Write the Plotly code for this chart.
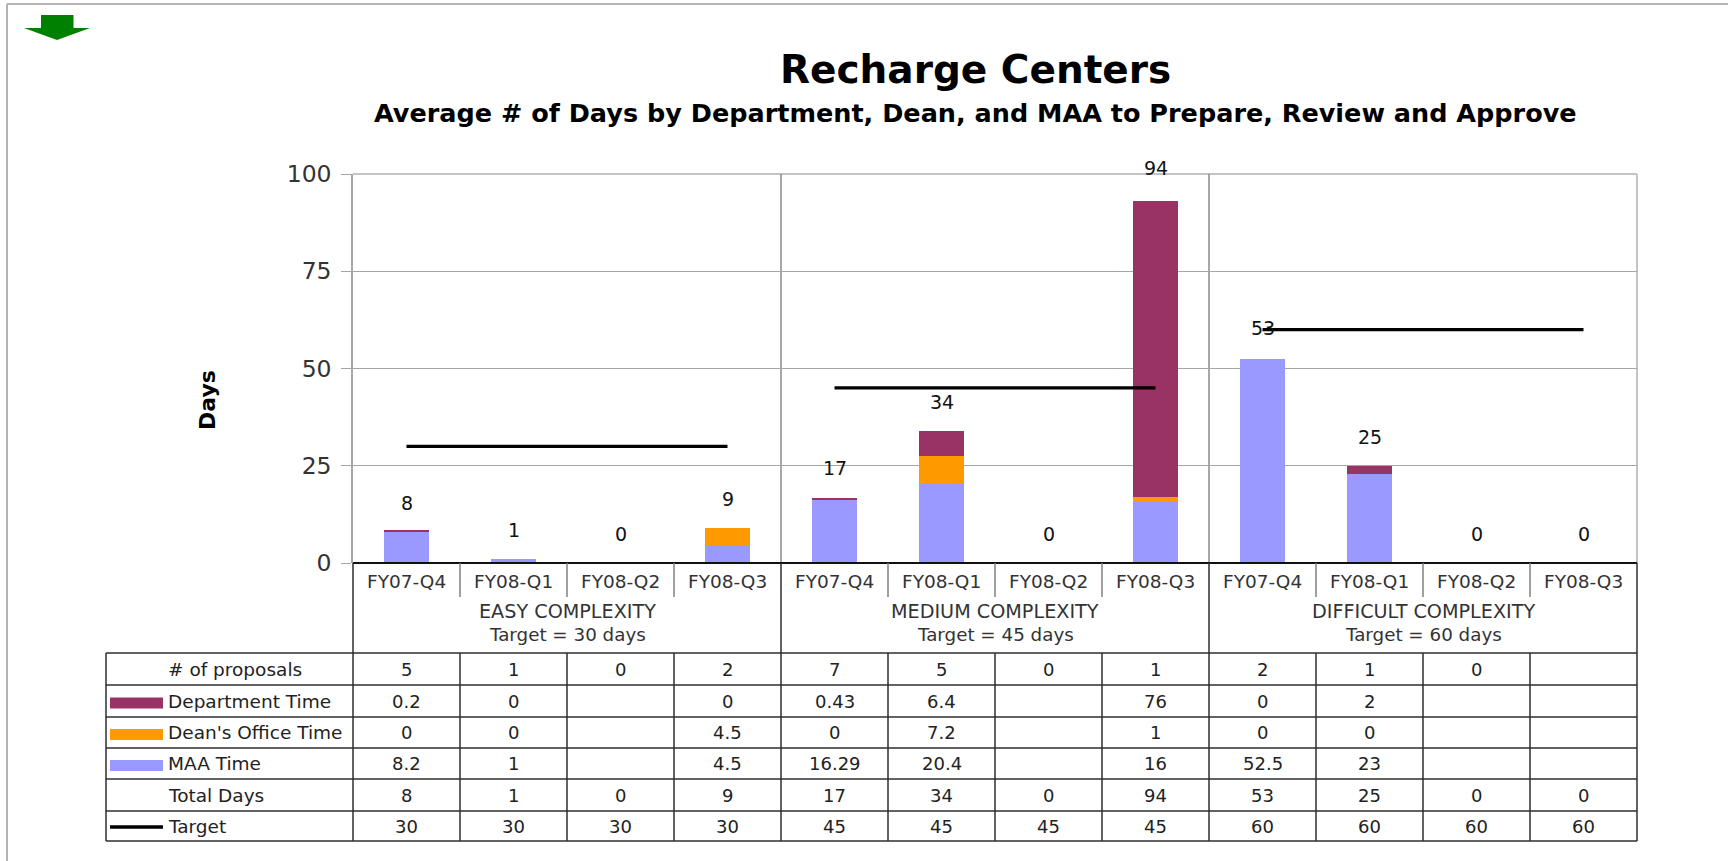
import plotly.graph_objects as go

# ---------------- data ----------------
quarters = ["FY07-Q4", "FY08-Q1", "FY08-Q2", "FY08-Q3",
            "FY07-Q4", "FY08-Q1", "FY08-Q2", "FY08-Q3",
            "FY07-Q4", "FY08-Q1", "FY08-Q2", "FY08-Q3"]
groups = ["EASY COMPLEXITY", "MEDIUM COMPLEXITY", "DIFFICULT COMPLEXITY"]
group_targets = [30, 45, 60]
n_per_group = 4

proposals = [5, 1, 0, 2, 7, 5, 0, 1, 2, 1, 0, None]
dept_time = [0.2, 0, None, 0, 0.43, 6.4, None, 76, 0, 2, None, None]
dean_time = [0, 0, None, 4.5, 0, 7.2, None, 1, 0, 0, None, None]
maa_time = [8.2, 1, None, 4.5, 16.29, 20.4, None, 16, 52.5, 23, None, None]
total_days = [8, 1, 0, 9, 17, 34, 0, 94, 53, 25, 0, 0]
target = [30, 30, 30, 30, 45, 45, 45, 45, 60, 60, 60, 60]

row_labels = ["# of proposals", "Department Time", "Dean's Office Time",
              "MAA Time", "Total Days", "Target"]

C_DEPT = "#993366"
C_DEAN = "#FF9900"
C_MAA = "#9999FF"

W, H = 1728, 861
FONT = "DejaVu Sans"


def px(x):
    return x / W


def py(y):
    return (H - y) / H


n = len(quarters)
xs = list(range(n))

fig = go.Figure()

# bars (stacked bottom -> top: MAA, Dean, Dept)
fig.add_trace(go.Bar(x=xs, y=maa_time, marker=dict(color=C_MAA, line=dict(width=0)), name="MAA Time"))
fig.add_trace(go.Bar(x=xs, y=dean_time, marker=dict(color=C_DEAN, line=dict(width=0)), name="Dean's Office Time"))
fig.add_trace(go.Bar(x=xs, y=dept_time, marker=dict(color=C_DEPT, line=dict(width=0)), name="Department Time"))

# target line, broken between groups
tx, ty = [], []
for i in xs:
    if i > 0 and i % n_per_group == 0:
        tx.append(None)
        ty.append(None)
    tx.append(i)
    ty.append(target[i])
fig.add_trace(go.Scatter(x=tx, y=ty, mode="lines", line=dict(color="black", width=3.2),
                         name="Target", connectgaps=False))

shapes = []
annotations = []

# ---------- plot area frame / group separators ----------
Y_TOP, Y_ZERO = 174, 563
PLOT_L, PLOT_R = 353, 1637
shapes.append(dict(type="line", xref="paper", yref="paper", x0=px(PLOT_L), x1=px(PLOT_R),
                   y0=py(Y_TOP), y1=py(Y_TOP), line=dict(color="#b0b0b0", width=1.5), layer="below"))
shapes.append(dict(type="line", xref="paper", yref="paper", x0=px(PLOT_R), x1=px(PLOT_R),
                   y0=py(Y_TOP), y1=py(Y_ZERO), line=dict(color="#c4c4c4", width=2), layer="below"))
for g in range(1, len(groups)):
    xb = g * n_per_group - 0.5
    shapes.append(dict(type="line", xref="x", yref="paper", x0=xb, x1=xb,
                       y0=py(Y_TOP), y1=py(Y_ZERO), line=dict(color="#8a8a8a", width=1.5), layer="below"))

# ---------- category axis table ----------
LINE = "#2e2e2e"
TAB_L = 106
row_lines = [653, 685, 717, 748, 779, 811, 841]

# axis line
shapes.append(dict(type="line", xref="paper", yref="paper", x0=px(PLOT_L), x1=px(PLOT_R),
                   y0=py(Y_ZERO), y1=py(Y_ZERO), line=dict(color="#111111", width=2)))
# small quarter separators
for k in range(1, n):
    if k % n_per_group == 0:
        continue
    shapes.append(dict(type="line", xref="x", yref="paper", x0=k - 0.5, x1=k - 0.5,
                       y0=py(Y_ZERO), y1=py(597), line=dict(color="#808080", width=1.5)))
# group separators through label area
for g in range(1, len(groups)):
    xb = g * n_per_group - 0.5
    shapes.append(dict(type="line", xref="x", yref="paper", x0=xb, x1=xb,
                       y0=py(Y_ZERO), y1=py(row_lines[-1]), line=dict(color=LINE, width=1.5)))
# left/right borders of the label area
for xv in (PLOT_L, PLOT_R):
    shapes.append(dict(type="line", xref="paper", yref="paper", x0=px(xv), x1=px(xv),
                       y0=py(Y_ZERO), y1=py(row_lines[-1]), line=dict(color=LINE, width=1.5)))
# table row lines
for yl in row_lines:
    shapes.append(dict(type="line", xref="paper", yref="paper", x0=px(TAB_L), x1=px(PLOT_R),
                       y0=py(yl), y1=py(yl), line=dict(color=LINE, width=1.6)))
# table left border
shapes.append(dict(type="line", xref="paper", yref="paper", x0=px(TAB_L), x1=px(TAB_L),
                   y0=py(row_lines[0]), y1=py(row_lines[-1]), line=dict(color=LINE, width=1.5)))
# table column separators
for k in range(1, n):
    if k % n_per_group == 0:
        continue
    shapes.append(dict(type="line", xref="x", yref="paper", x0=k - 0.5, x1=k - 0.5,
                       y0=py(row_lines[0]), y1=py(row_lines[-1]), line=dict(color=LINE, width=1.5)))

TXT = "#333333"
# quarter labels
for i in xs:
    annotations.append(dict(x=i, y=py(581), xref="x", yref="paper", text=quarters[i],
                            showarrow=False, font=dict(family=FONT, size=18.5, color=TXT),
                            xanchor="center", yanchor="middle"))
# group labels
for g, name in enumerate(groups):
    xc = g * n_per_group + (n_per_group - 1) / 2
    annotations.append(dict(x=xc, y=py(611), xref="x", yref="paper", text=name,
                            showarrow=False, font=dict(family=FONT, size=19.2, color=TXT),
                            xanchor="center", yanchor="middle"))
    annotations.append(dict(x=xc, y=py(634), xref="x", yref="paper",
                            text="Target = %d days" % group_targets[g],
                            showarrow=False, font=dict(family=FONT, size=18.3, color=TXT),
                            xanchor="center", yanchor="middle"))


def fmt(v):
    if v is None:
        return ""
    return "{:g}".format(v)


table_rows = [proposals, dept_time, dean_time, maa_time, total_days, target]
for r, (lab, vals) in enumerate(zip(row_labels, table_rows)):
    yc = (row_lines[r] + row_lines[r + 1]) / 2
    annotations.append(dict(x=px(166), y=py(yc), xref="paper", yref="paper", text=lab,
                            showarrow=False, font=dict(family=FONT, size=18.5, color="#222222"),
                            xanchor="left", yanchor="middle"))
    for i in xs:
        t = fmt(vals[i])
        if t:
            annotations.append(dict(x=i, y=py(yc), xref="x", yref="paper", text=t,
                                    showarrow=False, font=dict(family=FONT, size=18, color="#222222"),
                                    xanchor="center", yanchor="middle"))

# legend keys in the table
key_colors = {1: C_DEPT, 2: C_DEAN, 3: C_MAA}
for r, col in key_colors.items():
    yc = (row_lines[r] + row_lines[r + 1]) / 2 + 2
    shapes.append(dict(type="rect", xref="paper", yref="paper", x0=px(110), x1=px(163),
                       y0=py(yc - 5.5), y1=py(yc + 5.5), fillcolor=col, line=dict(width=0)))
yc = (row_lines[5] + row_lines[6]) / 2 + 1
shapes.append(dict(type="line", xref="paper", yref="paper", x0=px(110), x1=px(163),
                   y0=py(yc), y1=py(yc), line=dict(color="black", width=3.5)))

# data labels over bars
for i in xs:
    annotations.append(dict(x=i, y=total_days[i], xref="x", yref="y", text=str(total_days[i]),
                            showarrow=False, yshift=29,
                            font=dict(family=FONT, size=19, color="#111111"),
                            xanchor="center", yanchor="middle"))

# titles
annotations.append(dict(x=px(976), y=py(69), xref="paper", yref="paper", text="<b>Recharge Centers</b>",
                        showarrow=False, font=dict(family=FONT, size=39, color="black"),
                        xanchor="center", yanchor="middle"))
annotations.append(dict(x=px(975), y=py(113), xref="paper", yref="paper",
                        text="<b>Average # of Days by Department, Dean, and MAA to Prepare, Review and Approve</b>",
                        showarrow=False, font=dict(family=FONT, size=25.5, color="black"),
                        xanchor="center", yanchor="middle"))
annotations.append(dict(x=px(208), y=py(400), xref="paper", yref="paper", text="<b>Days</b>",
                        showarrow=False, textangle=-90, font=dict(family=FONT, size=22, color="black"),
                        xanchor="center", yanchor="middle"))

# outer frame and green arrow
shapes.append(dict(type="line", xref="paper", yref="paper", x0=px(7), x1=px(7), y0=py(4), y1=py(H + 5),
                   line=dict(color="#b3b3b3", width=2)))
shapes.append(dict(type="line", xref="paper", yref="paper", x0=px(7), x1=px(W + 5), y0=py(4), y1=py(4),
                   line=dict(color="#b3b3b3", width=2)))
arrow_pts = [(41, 15), (73.5, 15), (73.5, 28), (90, 28), (57, 40), (24, 28), (41, 28)]
path = "M " + " L ".join("%f,%f" % (px(a), py(b)) for a, b in arrow_pts) + " Z"
shapes.append(dict(type="path", xref="paper", yref="paper", path=path,
                   fillcolor="#008000", line=dict(width=0)))

fig.update_layout(
    width=W, height=H, autosize=False,
    margin=dict(l=0, r=0, t=0, b=0, pad=0),
    paper_bgcolor="white", plot_bgcolor="white",
    barmode="stack", bargap=0.58,
    showlegend=False,
    shapes=shapes, annotations=annotations,
    xaxis=dict(domain=[px(PLOT_L), px(PLOT_R)], range=[-0.5, n - 0.5], showticklabels=False,
               showgrid=False, zeroline=False, showline=False, ticks="", fixedrange=True,
               automargin=False),
    yaxis=dict(domain=[py(Y_ZERO), py(Y_TOP)], range=[0, 100], tickvals=[0, 25, 50, 75, 100],
               showgrid=True, gridcolor="#a6a6a6", gridwidth=1, zeroline=False,
               showline=True, linecolor="#a6a6a6", linewidth=1.5,
               ticks="outside", ticklen=10, tickcolor="#a6a6a6", tickwidth=1,
               ticklabelstandoff=5, automargin=False,
               tickfont=dict(family=FONT, size=23.5, color="#333333"), fixedrange=True),
    font=dict(family=FONT),
)

fig.write_html("out.html", include_plotlyjs=True, config={"displayModeBar": False},
               post_script="document.body.style.margin='0';document.body.style.overflow='hidden';")
